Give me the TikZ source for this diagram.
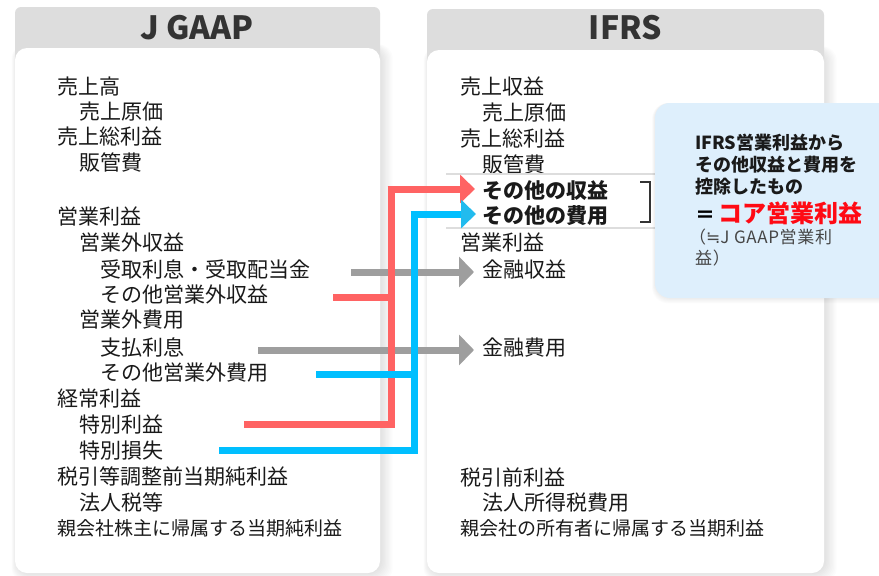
\documentclass[tikz,border=0pt]{standalone}
\usepackage{fontspec}
\setmainfont{Noto Sans CJK JP}
\newfontfamily\symfont{DejaVu Sans}
\usetikzlibrary{arrows.meta}
\definecolor{hdr}{RGB}{221,221,221}
\definecolor{titlec}{RGB}{51,51,51}
\definecolor{txt}{RGB}{26,26,26}
\definecolor{callbg}{RGB}{222,239,252}
\definecolor{sepc}{RGB}{221,221,221}
\definecolor{grayarr}{RGB}{158,158,158}
\definecolor{redarr}{RGB}{255,99,99}
\definecolor{bluearr}{RGB}{0,191,255}
\definecolor{bluetip}{RGB}{34,187,238}
\definecolor{corered}{RGB}{255,10,20}
\definecolor{notegray}{RGB}{70,70,70}
\tikzset{
  t0/.style={anchor=west, inner sep=0pt, text=txt, font=\fontsize{21}{25}\selectfont},
  tb/.style={t0, font=\fontsize{21}{25}\selectfont\bfseries},
  tsm/.style={t0, font=\fontsize{19}{23}\selectfont},
  ttl/.style={inner sep=0pt, text=titlec, font=\bfseries\fontsize{32}{32}\selectfont},
  cb/.style={anchor=west, inner sep=0pt, text=txt, font=\fontsize{18}{20}\selectfont\bfseries},
  cg/.style={anchor=west, inner sep=0pt, text=notegray, font=\fontsize{17}{19}\selectfont\addfontfeature{LetterSpace=4}},
  conn/.style={line width=7pt, line cap=butt, line join=miter},
  grayline/.style={conn, draw=grayarr, -{Triangle[length=15pt,width=30pt,color=grayarr]}},
  redline/.style={conn, draw=redarr},
  blueline/.style={conn, draw=bluearr},
  redtip/.style={conn, draw=redarr, -{Triangle[length=15pt,width=28pt,color=redarr]}},
  bluetipline/.style={conn, draw=bluearr, -{Triangle[length=15pt,width=28pt,color=bluetip]}},
  sepline/.style={draw=sepc, line width=2pt},
  bracket/.style={draw=titlec, line width=1.5pt},
}
\begin{document}
\begin{tikzpicture}[x=1pt,y=-1pt]
\useasboundingbox (0,0) rectangle (879,576);
\clip (0,0) rectangle (879,576);
\fill[white] (0,0) rectangle (879,576);

% ---- panel shadows
\foreach \i in {1,...,9}{
  \fill[black, opacity=0.011, rounded corners=14pt] (15+2-\i*0.6,48-\i*0.4) rectangle (380+1+\i*1.3,573+\i);
  \fill[black, opacity=0.011, rounded corners=14pt] (427+2-\i*0.6,50-\i*0.4) rectangle (824+1+\i*1.3,573+\i);
}
% ---- left panel
\fill[hdr, rounded corners=6pt] (15,7) rectangle (380,62);
\fill[white, rounded corners=12pt] (15,48) rectangle (380,573);
\node[ttl] (jtitle) at (197,27.5) {J GAAP};
% ---- right panel
\fill[hdr, rounded corners=6pt] (427,9) rectangle (824,64);
\fill[white, rounded corners=12pt] (427,50) rectangle (824,573);
\node[ttl] (ititle) at (625.5,28) {IFRS};

% ---- left texts
\node[t0] (jSales) at (57,87) {売上高};
\node[t0] (jCOGS) at (79,112) {売上原価};
\node[t0] (jGross) at (57,137) {売上総利益};
\node[t0] (jSGA) at (79,162) {販管費};
\node[t0] (jOI) at (57,217) {営業利益};
\node[t0] (jNOI) at (79,243) {営業外収益};
\node[t0] (jInt) at (100,269) {受取利息・受取配当金};
\node[t0] (jOthInc) at (100,295) {その他営業外収益};
\node[t0] (jNOE) at (79,320) {営業外費用};
\node[t0] (jIntExp) at (100,347) {支払利息};
\node[t0] (jOthExp) at (100,373) {その他営業外費用};
\node[t0] (jOrd) at (57,399) {経常利益};
\node[t0] (jExtG) at (79,425) {特別利益};
\node[t0] (jExtL) at (79,451) {特別損失};
\node[t0] (jPre) at (57,477) {税引等調整前当期純利益};
\node[t0] (jTax) at (79,502) {法人税等};
\node[tsm] (jNet) at (57,528) {親会社株主に帰属する当期純利益};

% ---- right texts
\node[t0] (iRev) at (460,87) {売上収益};
\node[t0] (iCOGS) at (482,113) {売上原価};
\node[t0] (iGross) at (460,139) {売上総利益};
\node[t0] (iSGA) at (482,164) {販管費};
\node[tb] (iOthInc) at (482,191) {その他の収益};
\node[tb] (iOthExp) at (482,216) {その他の費用};
\node[t0] (iOI) at (460,243) {営業利益};
\node[t0] (iFinInc) at (482,270) {金融収益};
\node[t0] (iFinExp) at (482,348) {金融費用};
\node[t0] (iPre) at (460,477) {税引前利益};
\node[t0] (iTax) at (482,503) {法人所得税費用};
\node[tsm] (iNet) at (460,528) {親会社の所有者に帰属する当期利益};

% separators and bracket
\draw[sepline] (446,174) -- (660,174);
\draw[sepline] (446,228) -- (660,228);
\draw[bracket] (640,182) -- (650,182) -- (650,222) -- (640,222);

% ---- connectors
\coordinate (g1s) at (351,272);
\coordinate (g1e) at (474,272);
\coordinate (g2s) at (258,350);
\coordinate (g2e) at (474,350);
\draw[grayline] (g1s) -- (g1e);
\draw[grayline] (g2s) -- (g2e);

\coordinate (r1s) at (333,297);
\coordinate (r2s) at (244,424.5);
\coordinate (rtop) at (391,189);
\coordinate (rtip) at (475,189);
\draw[redline] (r1s) -- (391,297);
\draw[redline] (r2s) -| (rtop);
\draw[redtip] ([xshift=-3.5pt]rtop) -- (rtip);

\coordinate (b1s) at (316,374);
\coordinate (b2s) at (219,450);
\coordinate (btop) at (414,214);
\coordinate (btip) at (476,214);
\draw[blueline] (b1s) -- (414,374);
\draw[blueline] (b2s) -| (btop);
\draw[bluetipline] ([xshift=-3.5pt]btop) -- (btip);

% ---- callout
\foreach \i in {1,...,6}{
  \fill[black, opacity=0.012, rounded corners=16pt] (655-\i*0.5,103) rectangle (930,298+\i*0.9);
}
\fill[callbg, rounded corners=15pt] (655,103) rectangle (930,298);
\node[cb] (c1) at (695,143) {IFRS営業利益から};
\node[cb] (c2) at (695,165) {その他収益と費用を};
\node[cb] (c3) at (695,187) {控除したもの};
\node[anchor=west, inner sep=0pt] (c4) at (695,213) {{\fontsize{20}{20}\selectfont\bfseries ＝}\hspace{3pt}\textcolor{corered}{\fontsize{24}{24}\selectfont\bfseries コア営業利益}};
\node[cg] (c5) at (689,237) {（{\symfont ≒}J GAAP営業利};
\node[cg] (c6) at (695,258) {益）};
\end{tikzpicture}
\end{document}
